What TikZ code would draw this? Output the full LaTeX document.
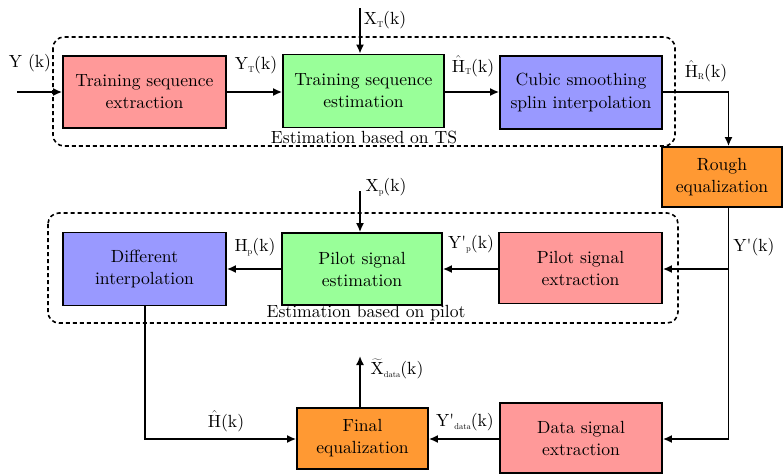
\documentclass[tikz,border=0pt]{standalone}
\usepackage{fontspec}
\setmainfont{lmroman10-regular}[Extension=.otf,BoldFont=lmroman10-bold,ItalicFont=lmroman10-italic]
\usetikzlibrary{arrows.meta}
\newcommand{\sbs}[1]{\raisebox{-0.35ex}{\fontsize{8.5}{8.5}\selectfont #1}}
\newcommand{\hatH}{$\hat{\mathrm{H}}$}
\definecolor{cpink}{HTML}{FF9999}
\definecolor{cgreen}{HTML}{99FF99}
\definecolor{cblue}{HTML}{9999FF}
\definecolor{corange}{HTML}{FF9933}
\begin{document}
\begin{tikzpicture}[x=1pt,y=-1pt,
  font=\fontsize{17.6}{22}\selectfont,
  blk/.style={draw=black,line width=1.8pt,align=center,inner sep=0pt},
  conn/.style={line width=1.6pt,-{Latex[length=9pt,width=8pt]}},
  plain/.style={line width=1.6pt},
  grp/.style={draw=black,line width=1.6pt,dash pattern=on 4pt off 3pt,rounded corners=11pt},
  lbl/.style={inner sep=0pt}]
\useasboundingbox (0,0) rectangle (783,474);

% group frames
\draw[grp] (53,37) rectangle (675,146);
\draw[grp] (48,213) rectangle (678,323);
\node[lbl] (gts) at (364,137) {Estimation based on TS};
\node[lbl] (gpil) at (366,313) {Estimation based on pilot};

% top row
\node[blk,fill=cpink,minimum width=163pt,minimum height=72pt] (tse) at (144.5,92) {Training sequence\\extraction};
\node[blk,fill=cgreen,minimum width=161pt,minimum height=73pt] (tsest) at (363.5,91) {Training sequence\\estimation};
\node[blk,fill=cblue,minimum width=162pt,minimum height=73pt] (cub) at (581,92.5) {Cubic smoothing\\splin interpolation};
\node[blk,fill=corange,minimum width=120pt,minimum height=60pt] (rough) at (722,177) {Rough\\equalization};

% middle row
\node[blk,fill=cblue,minimum width=163pt,minimum height=73pt] (diff) at (144.5,269) {Different\\interpolation};
\node[blk,fill=cgreen,minimum width=160pt,minimum height=72pt] (pest) at (362,269) {Pilot signal\\estimation};
\node[blk,fill=cpink,minimum width=163pt,minimum height=71pt] (pext) at (580.5,268) {Pilot signal\\extraction};

% bottom row
\node[blk,fill=corange,minimum width=131pt,minimum height=61pt] (final) at (362.5,438.5) {Final\\equalization};
\node[blk,fill=cpink,minimum width=162pt,minimum height=70pt] (data) at (581,438) {Data signal\\extraction};

% coordinates
\coordinate (yin) at (17,92);
\coordinate (xtt) at (360,8);
\coordinate (xpt) at (360,191);
\coordinate (c1) at (728.5,92);
\coordinate (c2) at (728.5,439);
\coordinate (c3) at (145,439);
\coordinate (xout) at (360,356);

% connectors
\draw[conn] (yin) -- (yin -| tse.west);
\draw[conn] (tse.east |- yin) -- (tsest.west |- yin);
\draw[conn] (xtt) -- (xtt |- tsest.north);
\draw[conn] (tsest.east |- yin) -- (cub.west |- yin);
\draw[conn] (cub.east |- c1) -- (c1) -- (c1 |- rough.north);
\draw[plain] (c2 |- rough.south) -- (c2);
\draw[conn] (c2) -- (c2 -| data.east);
\draw[conn] (c2 |- 0,269) -- (pext.east |- 0,269);
\draw[conn] (pext.west |- 0,269) -- (pest.east |- 0,269);
\draw[conn] (pest.west |- 0,269) -- (diff.east |- 0,269);
\draw[conn] (xpt) -- (xpt |- pest.north);
\draw[conn] (c3 |- diff.south) -- (c3) -- (c3 -| final.west);
\draw[conn] (data.west |- c2) -- (final.east |- c2);
\draw[conn] (xout |- final.north) -- (xout);

% labels
\node[lbl] (lyin) at (30,63) {Y (k)};
\node[lbl] (lyt) at (256,65) {Y\sbs{T}(k)};
\node[lbl] (lxt) at (385,20) {X\sbs{T}(k)};
\node[lbl] (lht) at (473,66) {\hatH\sbs{T}(k)};
\node[lbl] (lhr) at (706,71) {\hatH\sbs{R}(k)};
\node[lbl] (lyp) at (754,247) {Y\textquotesingle(k)};
\node[lbl] (lxp) at (386,187) {X\sbs{p}(k)};
\node[lbl] (lhp) at (255,247) {H\sbs{p}(k)};
\node[lbl] (lypp) at (471,244) {Y\textquotesingle\sbs{p}(k)};
\node[lbl] (lh) at (226,421) {\hatH(k)};
\node[lbl] (lyd) at (465,422) {Y\textquotesingle\sbs{data}(k)};
\node[lbl] (lxd) at (397,369) {$\widetilde{\mathrm{X}}$\sbs{data}(k)};
\end{tikzpicture}
\end{document}
